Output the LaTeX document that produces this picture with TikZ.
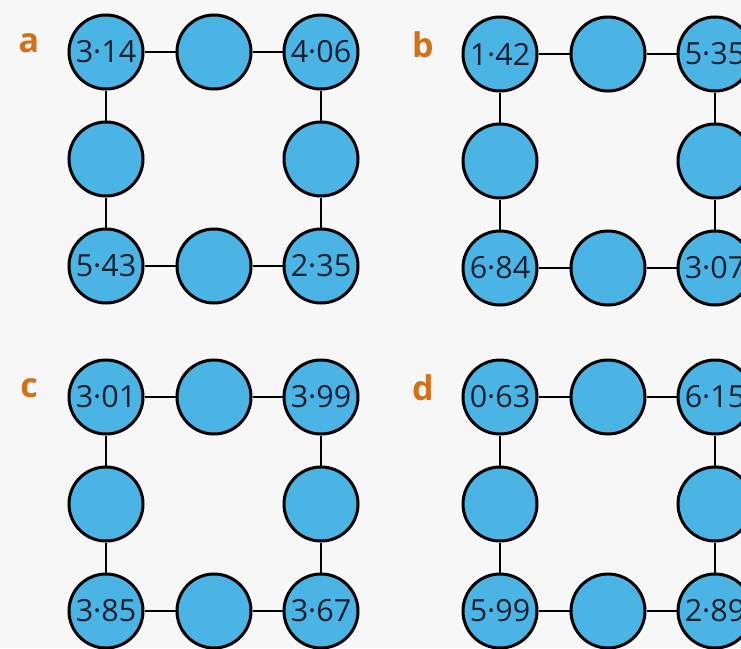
\documentclass[tikz,border=0pt]{standalone}
\usepackage{fontspec}
\setmainfont{Open Sans}
\definecolor{ballblue}{RGB}{74,180,228}
\definecolor{lblorange}{RGB}{214,112,22}
\definecolor{numink}{RGB}{22,32,48}
\tikzset{
  ball/.style={circle, draw=black, line width=3pt, fill=ballblue, minimum size=74pt, inner sep=0pt, text=numink, font=\fontsize{30.5}{30.5}\selectfont},
  lbl/.style={text=lblorange, font=\fontsize{34}{34}\selectfont\bfseries, inner sep=0pt},
  link/.style={line width=2.5pt, draw=black}
}
\newcommand\mygrid[8]{%
  \node[lbl] (#1lab) at ({#2-77},{#3-9}) {#4};
  \node[ball] (#1tl) at (#2,#3) {#5};
  \node[ball] (#1tm) at ({#2+108},#3) {};
  \node[ball] (#1tr) at ({#2+215},#3) {#6};
  \node[ball] (#1ml) at (#2,{#3+107}) {};
  \node[ball] (#1mr) at ({#2+215},{#3+107}) {};
  \node[ball] (#1bl) at (#2,{#3+214}) {#7};
  \node[ball] (#1bm) at ({#2+108},{#3+214}) {};
  \node[ball] (#1br) at ({#2+215},{#3+214}) {#8};
  \draw[link] (#1tl) -- (#1tm);
  \draw[link] (#1tm) -- (#1tr);
  \draw[link] (#1tl) -- (#1ml);
  \draw[link] (#1ml) -- (#1bl);
  \draw[link] (#1tr) -- (#1mr);
  \draw[link] (#1mr) -- (#1br);
  \draw[link] (#1bl) -- (#1bm);
  \draw[link] (#1bm) -- (#1br);
}
\begin{document}
\begin{tikzpicture}[x=1pt,y=-1pt]
\useasboundingbox (0,0) rectangle (741,648);
\fill[white!97!black] (0,0) rectangle (741,648);
\clip (0,0) rectangle (741,648);
\mygrid{a}{106}{52}{a}{3·14}{4·06}{5·43}{2·35}
\mygrid{b}{500}{54}{b}{1·42}{5·35}{6·84}{3·07}
\mygrid{c}{106}{397}{c}{3·01}{3·99}{3·85}{3·67}
\mygrid{d}{500}{397}{d}{0·63}{6·15}{5·99}{2·89}
\end{tikzpicture}
\end{document}
